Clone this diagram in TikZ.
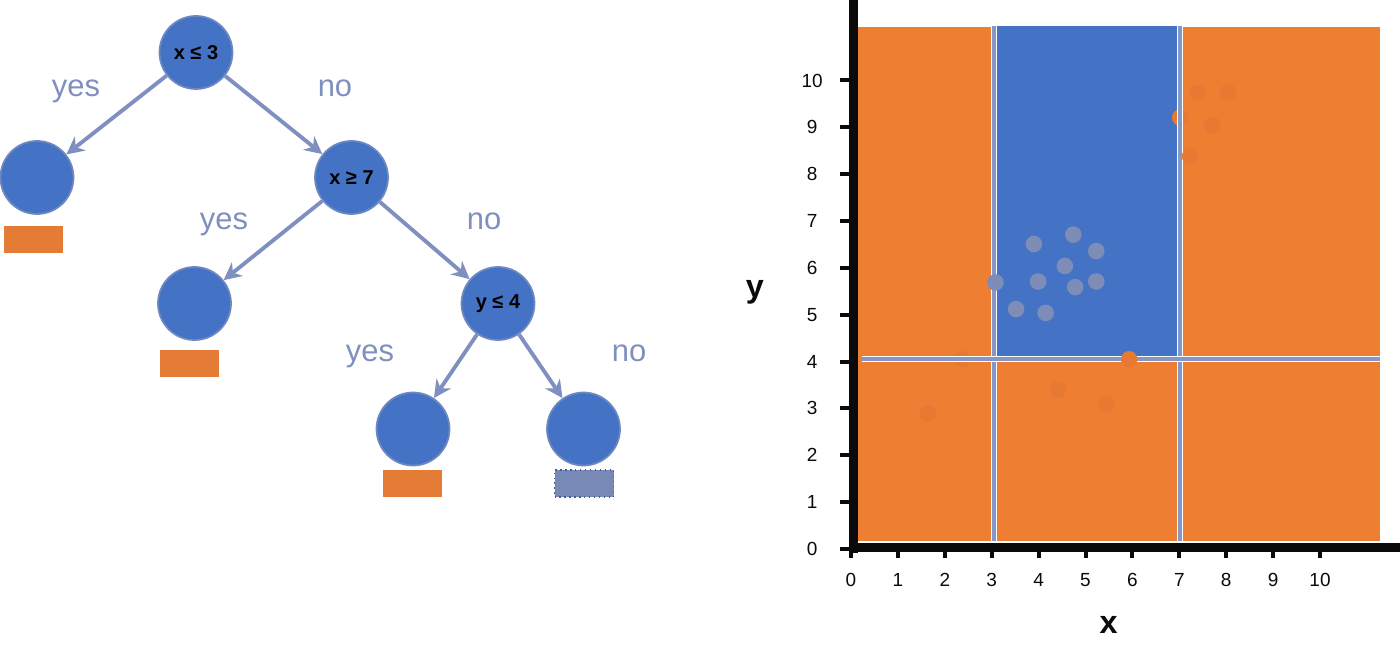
\documentclass[tikz,border=0pt]{standalone}
\usepackage{fontspec}
\setmainfont{Liberation Sans}
\usetikzlibrary{arrows.meta}

\definecolor{nodeblue}{HTML}{4472C4}
\definecolor{rimblue}{HTML}{6E88C0}
\definecolor{labelblue}{HTML}{7F90C0}
\definecolor{boxorange}{HTML}{E57C35}
\definecolor{boxgray}{HTML}{7889B5}
\definecolor{boxrim}{HTML}{3B5BA5}
\definecolor{plotorange}{HTML}{EE7E31}
\definecolor{dotorange}{HTML}{E67A33}
\definecolor{dotblue}{HTML}{7D8DB8}
\definecolor{splitgray}{HTML}{8597C6}
\definecolor{axisblack}{HTML}{0A0A0A}

\tikzset{
  split/.style={circle, fill=nodeblue, draw=rimblue, line width=0.5pt, minimum size=0.73cm, inner sep=0pt, font=\fontsize{5.7}{6}\selectfont\bfseries},
  answer/.style={text=labelblue, font=\fontsize{8.8}{10}\selectfont, anchor=base},
  branch/.style={draw=labelblue, line width=1.1pt, -{Stealth[length=5pt,width=5pt]}},
  classbox/.style={minimum width=0.59cm, minimum height=0.27cm, inner sep=0pt},
  splitline/.style={draw=white, double=splitgray, double distance=0.04cm, line width=0.012cm},
  ticklabel/.style={text=axisblack, font=\fontsize{5.4}{6}\selectfont, inner sep=0pt},
  axislabel/.style={text=axisblack, font=\fontsize{9.2}{10}\selectfont\bfseries, anchor=base, inner sep=0pt},
}

\begin{document}
\begin{tikzpicture}
\useasboundingbox (0,0) rectangle (14,6.55);

% tree
\node[split] (root) at (1.96,6.025) {x ≤ 3};
\node[split] (leafA) at (0.37,4.775) {};
\node[split] (splitB) at (3.515,4.775) {x ≥ 7};
\node[split] (leafB) at (1.945,3.515) {};
\node[split] (splitC) at (4.98,3.515) {y ≤ 4};
\node[split] (leafC) at (4.13,2.26) {};
\node[split] (leafD) at (5.835,2.26) {};

\draw[branch] (root) -- (leafA);
\draw[branch] (root) -- (splitB);
\draw[branch] (splitB) -- (leafB);
\draw[branch] (splitB) -- (splitC);
\draw[branch] (splitC) -- (leafC);
\draw[branch] (splitC) -- (leafD);

\node[answer] (yesA) at (0.76,5.58) {yes};
\node[answer] (noA) at (3.35,5.58) {no};
\node[answer] (yesB) at (2.24,4.25) {yes};
\node[answer] (noB) at (4.84,4.25) {no};
\node[answer] (yesC) at (3.70,2.93) {yes};
\node[answer] (noC) at (6.29,2.93) {no};

\node[classbox, fill=boxorange] (boxA) at (0.335,4.155) {};
\node[classbox, fill=boxorange] (boxB) at (1.895,2.915) {};
\node[classbox, fill=boxorange] (boxC) at (4.12,1.715) {};
\node[classbox, fill=boxgray, draw=boxrim, densely dotted, line width=0.4pt] (boxD) at (5.84,1.715) {};

% feature space
\begin{scope}[shift={(8.51,1.06)}, x=0.469cm, y=0.4685cm]

\fill[plotorange] (0.15,0.17) rectangle (11.28,11.14);
\fill[nodeblue] (3.05,4.06) rectangle (7.02,11.16);

% these two sit under the split lines
\fill[dotorange] (7.02,9.21) circle[radius=0.083cm];
\fill[dotorange] (2.37,4.05) circle[radius=0.083cm];

\draw[splitline] (3.05,0.17) -- (3.05,11.16);
\draw[splitline] (7.02,0.17) -- (7.02,11.16);
\draw[splitline] (0.23,4.06) -- (11.28,4.06);

\foreach \px/\py in {3.90/6.51, 4.74/6.71, 5.23/6.36, 4.56/6.04, 3.08/5.69,
                     3.99/5.71, 4.78/5.59, 5.23/5.71, 3.52/5.12, 4.15/5.04}
  \fill[dotblue] (\px,\py) circle[radius=0.083cm];
\foreach \px/\py in {7.40/9.74, 8.04/9.74, 7.70/9.05, 7.23/8.38,
                     5.93/4.05, 1.64/2.88, 4.41/3.40, 5.45/3.09}
  \fill[dotorange] (\px,\py) circle[radius=0.083cm];

\draw[axisblack, line width=0.09cm] (0.055,-0.09) -- (0.055,11.72);
\draw[axisblack, line width=0.09cm] (-0.04,0.03) -- (11.72,0.03);

\foreach \i in {0,...,10}{
  \draw[axisblack, line width=0.04cm] (\i,0) -- (\i,-0.19);
  \node[ticklabel] (xl\i) at (\i,-0.66) {\i};
}
\foreach \j in {0,...,10}{
  \draw[axisblack, line width=0.04cm] (0,\j) -- (-0.235,\j);
  \node[ticklabel] (yl\j) at (-0.83,\j) {\j};
}

\node[axislabel] (xlab) at (5.49,-1.81) {x};
\node[axislabel] (ylab) at (-2.05,5.37) {y};

\end{scope}

\end{tikzpicture}
\end{document}
